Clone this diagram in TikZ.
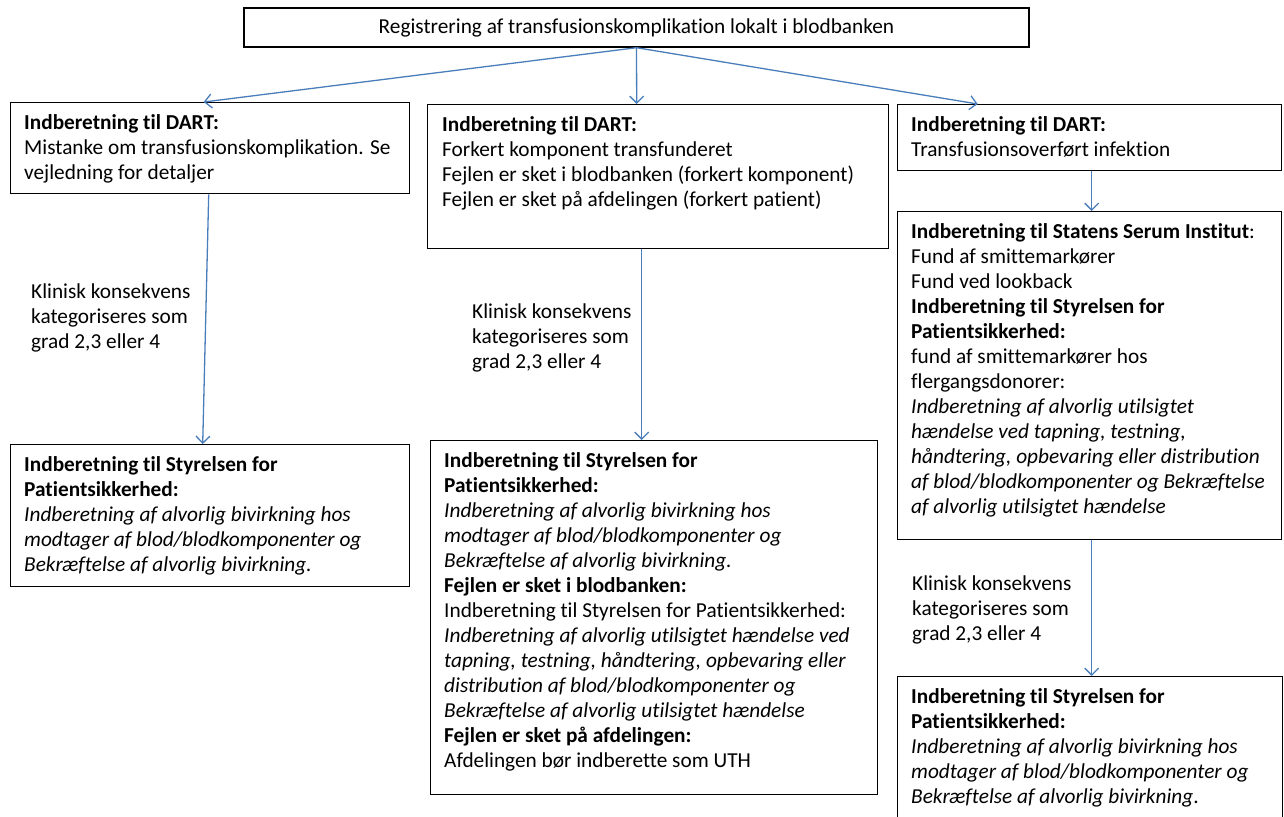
\documentclass[tikz,border=0pt]{standalone}
\usepackage{fontspec}
\setmainfont{Carlito}[Ligatures=NoCommon]
\usetikzlibrary{arrows.meta,positioning}
\definecolor{flowblue}{HTML}{4A7EBB}

\tikzset{
  box/.style={draw, line width=1.4pt, anchor=north west, inner sep=0pt},
  txt/.style={anchor=north west, align=left, inner xsep=14pt, inner ysep=12pt, font=\fontsize{21.3}{25}\selectfont},
  note/.style={anchor=north west, align=left, inner sep=0pt, font=\fontsize{21.3}{25}\selectfont},
  flow/.style={draw=flowblue, line width=1.3pt, -{Straight Barb[length=7pt,width=14pt]}}
}

\begin{document}
\begin{tikzpicture}[x=1pt, y=-1pt]
    \useasboundingbox (0,0) rectangle (1284,816);
    \clip (0,0) rectangle (1284,816);

    % Top box
    \node[draw, line width=1.4pt, minimum width=785pt, minimum height=39pt, inner sep=0pt, font=\fontsize{21.3}{25}\selectfont] (reg) at (636.5,27.5) {Registrering af transfusionskomplikation lokalt i blodbanken};

    % Left column
    \node[box, minimum width=399pt, minimum height=91pt] (dartA) at (10,102) {};
    \node[txt] (dartAtxt) at (dartA.north west) {\textbf{Indberetning til DART:}\\Mistanke om transfusionskomplikation. Se\\vejledning for detaljer};

    \node[box, minimum width=399pt, minimum height=142pt] (stpA) at (10,444) {};
    \node[txt] (stpAtxt) at (stpA.north west) {\textbf{Indberetning til Styrelsen for}\\\textbf{Patientsikkerhed:}\\\textit{Indberetning af alvorlig bivirkning hos}\\\textit{modtager af blod/blodkomponenter og}\\\textit{Bekræftelse af alvorlig bivirkning.}};

    \node[note] (gradA) at (31,284) {Klinisk konsekvens\\kategoriseres som\\grad 2,3 eller 4};

    % Middle column
    \node[box, minimum width=461pt, minimum height=144pt] (dartB) at (427,104) {};
    \node[txt, inner xsep=15pt] (dartBtxt) at (dartB.north west) {\textbf{Indberetning til DART:}\\Forkert komponent transfunderet\\Fejlen er sket i blodbanken (forkert komponent)\\Fejlen er sket på afdelingen (forkert patient)};

    \node[box, minimum width=447pt, minimum height=354pt] (stpB) at (430,440) {};
    \node[txt] (stpBtxt) at (stpB.north west) {\textbf{Indberetning til Styrelsen for}\\\textbf{Patientsikkerhed:}\\\textit{Indberetning af alvorlig bivirkning hos}\\\textit{modtager af blod/blodkomponenter og}\\\textit{Bekræftelse af alvorlig bivirkning.}\\\textbf{Fejlen er sket i blodbanken:}\\Indberetning til Styrelsen for Patientsikkerhed:\\\textit{Indberetning af alvorlig utilsigtet hændelse ved}\\\textit{tapning, testning, håndtering, opbevaring eller}\\\textit{distribution af blod/blodkomponenter og}\\\textit{Bekræftelse af alvorlig utilsigtet hændelse}\\\textbf{Fejlen er sket på afdelingen:}\\Afdelingen bør indberette som UTH};

    \node[note] (gradB) at (472,304) {Klinisk konsekvens\\kategoriseres som\\grad 2,3 eller 4};

    % Right column
    \node[box, minimum width=384pt, minimum height=66pt] (dartC) at (897,104) {};
    \node[txt] (dartCtxt) at (dartC.north west) {\textbf{Indberetning til DART:}\\Transfusionsoverført infektion};

    \node[box, minimum width=384pt, minimum height=328pt] (ssiC) at (897,211) {};
    \node[txt] (ssiCtxt) at (ssiC.north west) {\textbf{Indberetning til Statens Serum Institut}:\\Fund af smittemarkører\\Fund ved lookback\\\textbf{Indberetning til Styrelsen for}\\\textbf{Patientsikkerhed:}\\fund af smittemarkører hos\\flergangsdonorer:\\\textit{Indberetning af alvorlig utilsigtet}\\\textit{hændelse ved tapning, testning,}\\\textit{håndtering, opbevaring eller distribution}\\\textit{af blod/blodkomponenter og Bekræftelse}\\\textit{af alvorlig utilsigtet hændelse}};

    \node[box, minimum width=385pt, minimum height=160pt] (stpC) at (897,676) {};
    \node[txt] (stpCtxt) at (stpC.north west) {\textbf{Indberetning til Styrelsen for}\\\textbf{Patientsikkerhed:}\\\textit{Indberetning af alvorlig bivirkning hos}\\\textit{modtager af blod/blodkomponenter og}\\\textit{Bekræftelse af alvorlig bivirkning}.};

    \node[note] (gradC) at (912,576) {Klinisk konsekvens\\kategoriseres som\\grad 2,3 eller 4};

    % Arrows
    \draw[flow] (reg.south) -- ([xshift=-6.5pt]dartA.north);
    \draw[flow] (reg.south) -- ([xshift=-21.5pt]dartB.north);
    \draw[flow] (reg.south) -- ([xshift=-112pt]dartC.north);
    \draw[flow] ([xshift=-1.5pt]dartA.south) -- ([xshift=-7.5pt]stpA.north);
    \draw[flow] ([xshift=-16.5pt]dartB.south) -- ([xshift=-12.5pt]stpB.north);
    \draw[flow] ([xshift=2pt]dartC.south) -- ([xshift=2pt]ssiC.north);
    \draw[flow] ([xshift=2pt]ssiC.south) -- ([xshift=1.5pt]stpC.north);
\end{tikzpicture}
\end{document}
